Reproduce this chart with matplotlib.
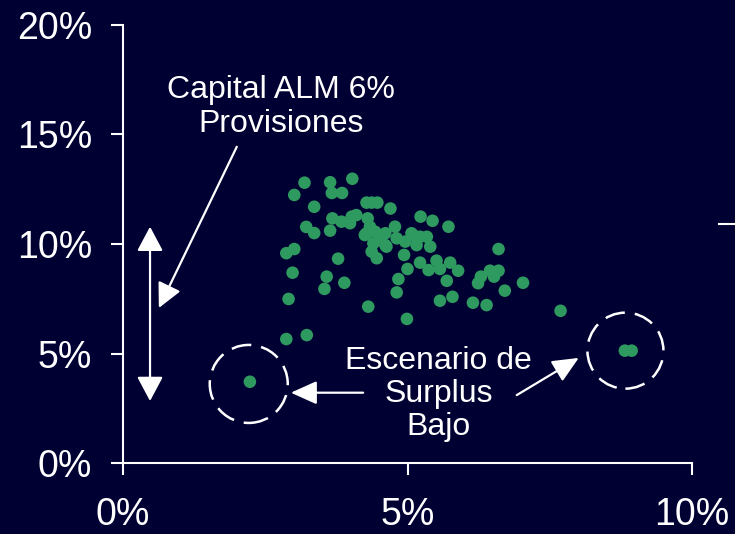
import matplotlib
matplotlib.use("Agg")
import matplotlib.pyplot as plt
from matplotlib.patches import Ellipse
from matplotlib.lines import Line2D
import numpy as np

plt.rcParams['font.family'] = ['Liberation Sans', 'DejaVu Sans']

# Scatter data (x %, y %)
x_vals = [3.19, 3.01, 3.64, 4.03, 3.67, 3.85, 3.36, 4.28, 4.37, 4.47,
          4.70, 5.23, 5.44, 5.72, 3.68, 3.22, 3.36, 3.64, 3.84, 4.02,
          4.10, 3.99, 4.30, 4.28, 4.34, 4.43, 4.52, 4.61, 4.78, 4.40,
          4.61, 4.81, 4.37, 4.46, 3.78, 4.96, 5.07, 5.16, 5.22, 5.34,
          5.10, 5.40, 4.94, 5.22, 5.51, 5.75, 5.00, 5.37, 5.57, 5.89,
          4.84, 5.69, 4.81, 5.57, 5.79, 6.15, 4.99, 6.24, 6.60, 6.45,
          6.60, 6.52, 6.29, 7.03, 6.71, 6.39, 7.69, 2.87, 3.01, 3.58,
          2.98, 3.54, 3.89, 2.91, 4.31, 2.87, 3.23, 4.25, 4.63, 2.23,
          8.82, 8.94]
y_vals = [12.80, 12.24, 12.82, 12.98, 12.33, 12.33, 11.70, 11.89, 11.89, 11.89,
          11.62, 11.25, 11.06, 10.79, 11.17, 10.78, 10.50, 10.61, 11.02, 11.25,
          11.32, 10.95, 11.17, 10.49, 10.79, 10.56, 10.33, 10.49, 10.79, 10.03,
          9.95, 10.26, 9.65, 9.35, 9.33, 10.11, 10.49, 9.95, 10.33, 10.33,
          10.41, 9.88, 9.50, 9.15, 9.24, 9.15, 8.86, 8.81, 8.86, 8.78,
          8.40, 8.32, 7.79, 7.41, 7.59, 7.32, 6.58, 8.21, 9.77, 8.78,
          8.78, 8.51, 8.51, 8.23, 7.87, 7.21, 6.95, 9.58, 9.77, 8.51,
          8.69, 7.95, 8.23, 7.49, 7.14, 5.66, 5.84, 10.41, 9.88, 3.71,
          5.13, 5.13]

x_ticks = [0, 5, 10]
x_tick_labels = ['0%', '5%', '10%']
y_ticks = [0, 5, 10, 15, 20]
y_tick_labels = ['0%', '5%', '10%', '15%', '20%']

label_capital = 'Capital ALM 6%\nProvisiones'
label_surplus = 'Escenario de\nSurplus\nBajo'

BG = '#000033'
GREEN = '#2f9a5f'
WHITE = 'white'

fig = plt.figure(figsize=(7.35, 5.34), dpi=100, facecolor=BG)
ax = fig.add_axes([123 / 735, 71 / 534, 569 / 735, 438 / 534])
ax.set_facecolor(BG)

ax.scatter(x_vals, y_vals, s=82, color=GREEN, edgecolors='none', zorder=3)

ax.set_xlim(0, 10)
ax.set_ylim(0, 20)
ax.set_xticks(x_ticks)
ax.set_xticklabels(x_tick_labels)
ax.set_yticks(y_ticks)
ax.set_yticklabels(y_tick_labels)

for side in ['top', 'right']:
    ax.spines[side].set_visible(False)
for side in ['left', 'bottom']:
    ax.spines[side].set_color(WHITE)
    ax.spines[side].set_linewidth(1.5)
    ax.spines[side].set_zorder(1)

ax.tick_params(axis='y', colors=WHITE, length=8.4, width=1.5, direction='out',
               pad=14, labelsize=27)
ax.tick_params(axis='x', colors=WHITE, length=8.5, width=1.5, direction='out',
               pad=16, labelsize=27)

# Vertical double-headed arrow
ax.annotate('', xy=(0.475, 10.79), xytext=(0.475, 2.83),
            arrowprops=dict(arrowstyle='<|-|>,head_length=1.5,head_width=0.8',
                            mutation_scale=10, color=WHITE, lw=1.6,
                            shrinkA=0, shrinkB=0))

# Capital text and arrow
ax.text(2.78, 16.26, label_capital, color=WHITE, fontsize=23, ha='center',
        va='center', multialignment='center', linespacing=1.15)
ax.annotate('', xy=(0.63, 7.08), xytext=(2.0, 14.44),
            arrowprops=dict(arrowstyle='-|>,head_length=1.5,head_width=0.75',
                            mutation_scale=10, color=WHITE, lw=1.6,
                            shrinkA=0, shrinkB=0))

# Surplus text and arrows
ax.text(5.55, 3.15, label_surplus, color=WHITE, fontsize=23, ha='center',
        va='center', multialignment='center', linespacing=1.12)
ax.annotate('', xy=(2.95, 3.21), xytext=(4.22, 3.21),
            arrowprops=dict(arrowstyle='-|>,head_length=1.6,head_width=0.72',
                            mutation_scale=10, color=WHITE, lw=1.6,
                            shrinkA=0, shrinkB=0))
ax.annotate('', xy=(8.01, 4.80), xytext=(6.92, 3.10),
            arrowprops=dict(arrowstyle='-|>,head_length=1.6,head_width=0.72',
                            mutation_scale=10, color=WHITE, lw=1.6,
                            shrinkA=0, shrinkB=0))

# Dashed circles around low-surplus scenarios
px_per_x = 569 / 10
px_per_y = 438 / 20
left_c = (x_vals[-3] - 0.02, y_vals[-3] - 0.1)
right_c = ((x_vals[-2] + x_vals[-1]) / 2 - 0.05, y_vals[-1])
for (cx, cy), r in [(left_c, 39), (right_c, 38)]:
    e = Ellipse((cx, cy), 2 * r / px_per_x, 2 * r / px_per_y, fill=False,
                edgecolor=WHITE, lw=1.8, linestyle=(0, (8, 4)), zorder=4)
    ax.add_patch(e)

# small line fragment at right edge
fig.add_artist(Line2D([719 / 735, 1.0], [(534 - 224.3) / 534] * 2,
                      color=WHITE, lw=1.5, transform=fig.transFigure))

fig.savefig('out.png', dpi=100, facecolor=BG)
